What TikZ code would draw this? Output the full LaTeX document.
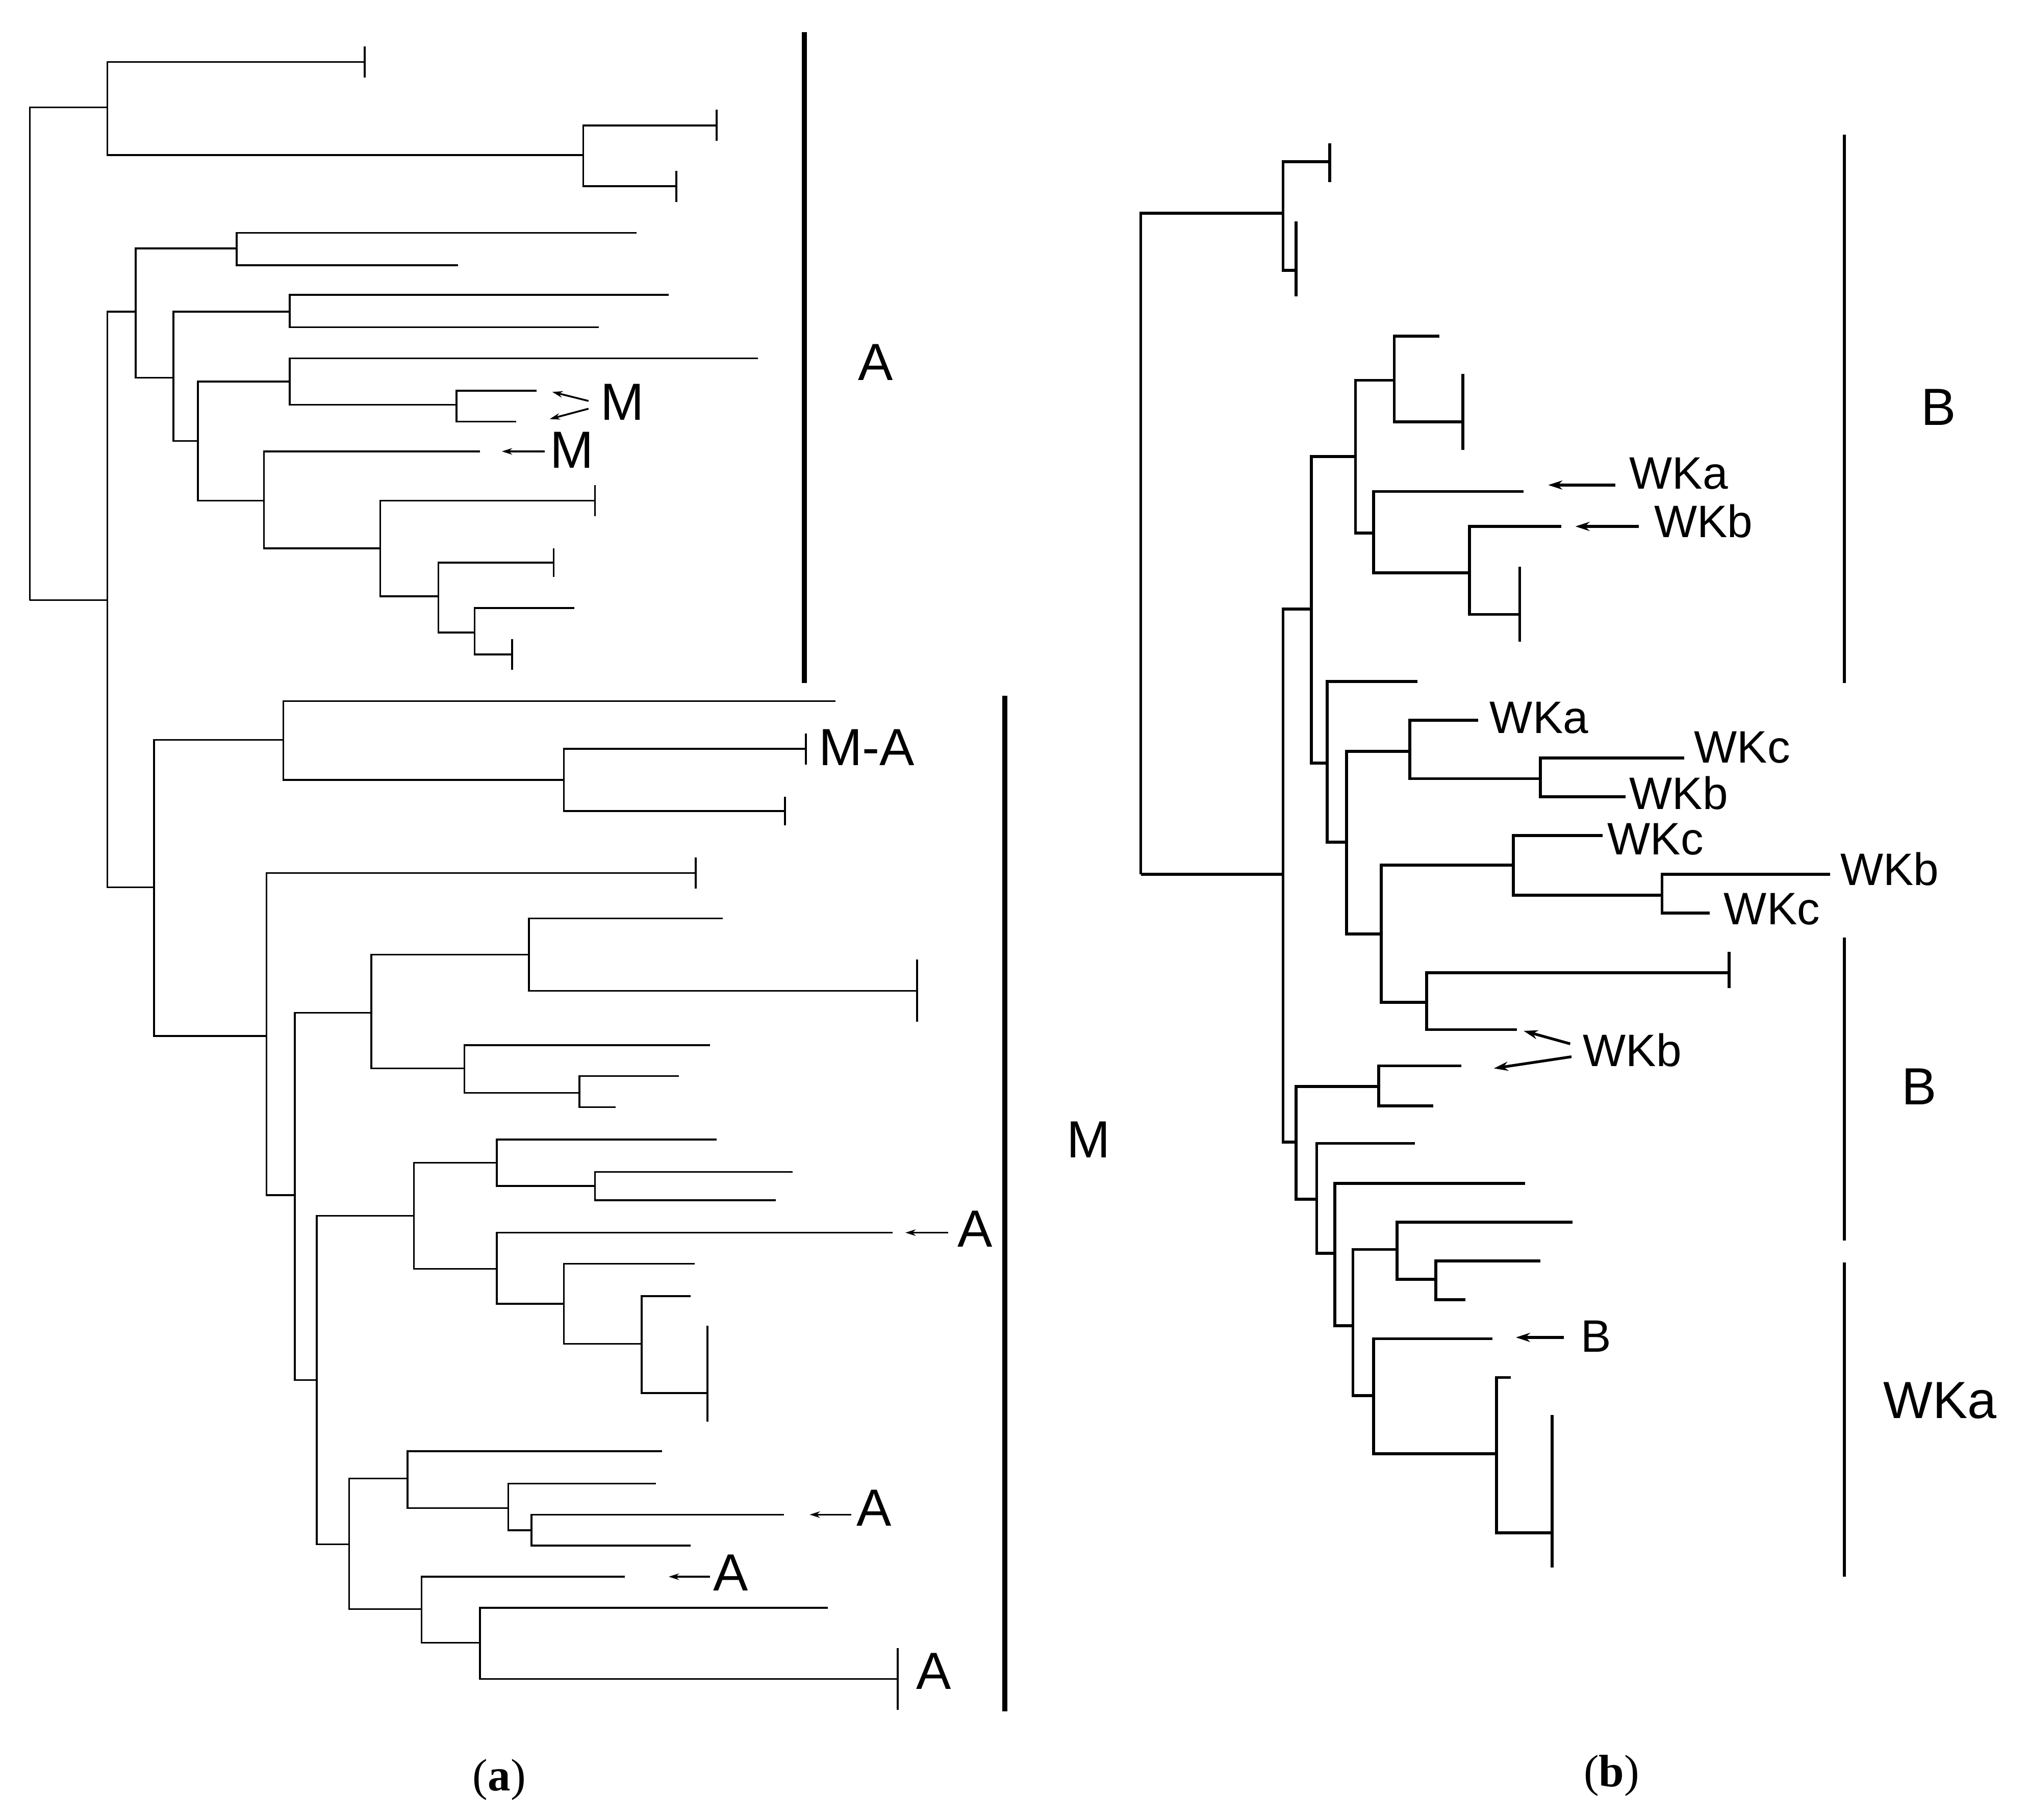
\documentclass[tikz,border=0pt]{standalone}
\usepackage{fontspec}
\setmainfont{Liberation Serif}
\setsansfont{Liberation Sans}
\usetikzlibrary{arrows.meta}
\tikzset{
  lbl/.style={font=\sffamily\fontsize{11.5}{13}\selectfont, inner sep=0pt},
  lblsm/.style={font=\sffamily\fontsize{10}{12}\selectfont, inner sep=0pt},
  panel/.style={font=\fontsize{10}{12}\selectfont, inner sep=0pt},
  elbow/.style={every edge/.style={draw, to path={|- (\tikztotarget)}}},
  ptrA/.style={-{Stealth[length=0.08cm,width=0.05cm]}, line width=0.4pt},
  ptrB/.style={-{Stealth[length=0.11cm,width=0.07cm]}, line width=0.6pt},
}
\newcommand\leafbar[3]{\draw ([yshift=#2cm]#1) -- ([yshift=-#3cm]#1);}

\begin{document}
\begin{tikzpicture}
\useasboundingbox (0,0) rectangle (15.68,-14.07);

% tree (a)
\begin{scope}[line width=0.4pt, elbow]
  \coordinate (a0) at (0.23,-4.64);
  \coordinate (a1) at (0.83,-0.83);
  \coordinate (a1l) at (2.82,-0.48);
  \coordinate (a11) at (4.51,-1.20);
  \coordinate (a11a) at (5.54,-0.97);
  \coordinate (a11b) at (5.23,-1.44);
  \coordinate (a2) at (0.83,-4.64);
  \coordinate (a3) at (1.05,-2.41);
  \coordinate (a31) at (1.83,-1.92);
  \coordinate (a31a) at (4.92,-1.80);
  \coordinate (a31b) at (3.54,-2.05);
  \coordinate (a32) at (1.34,-2.92);
  \coordinate (a321) at (2.24,-2.41);
  \coordinate (a321a) at (5.17,-2.28);
  \coordinate (a321b) at (4.63,-2.53);
  \coordinate (a322) at (1.53,-3.41);
  \coordinate (a323) at (2.24,-2.95);
  \coordinate (a323a) at (5.86,-2.77);
  \coordinate (a324) at (3.53,-3.13);
  \coordinate (a324a) at (4.15,-3.02);
  \coordinate (a324b) at (3.99,-3.26);
  \coordinate (a325) at (2.04,-3.87);
  \coordinate (a325a) at (3.71,-3.49);
  \coordinate (a326) at (2.94,-4.24);
  \coordinate (a326a) at (4.60,-3.87);
  \coordinate (a327) at (3.39,-4.61);
  \coordinate (a327a) at (4.28,-4.35);
  \coordinate (a328) at (3.67,-4.89);
  \coordinate (a328a) at (4.44,-4.70);
  \coordinate (a328b) at (3.96,-5.06);

  \coordinate (a4) at (1.19,-6.86);
  \coordinate (a41) at (2.19,-5.72);
  \coordinate (a41a) at (6.46,-5.42);
  \coordinate (a411) at (4.36,-6.03);
  \coordinate (a411a) at (6.23,-5.79);
  \coordinate (a411b) at (6.07,-6.27);
  \coordinate (a42) at (2.06,-8.01);
  \coordinate (a42a) at (5.38,-6.75);
  \coordinate (a43) at (2.28,-9.24);
  \coordinate (a431) at (2.87,-7.83);
  \coordinate (a432) at (4.09,-7.38);
  \coordinate (a432a) at (5.59,-7.10);
  \coordinate (a432b) at (7.09,-7.66);
  \coordinate (a433) at (3.59,-8.26);
  \coordinate (a433a) at (5.49,-8.08);
  \coordinate (a434) at (4.48,-8.45);
  \coordinate (a434a) at (5.25,-8.32);
  \coordinate (a434b) at (4.76,-8.56);
  \coordinate (a44) at (2.45,-10.67);
  \coordinate (a441) at (3.20,-9.40);
  \coordinate (a442) at (3.84,-8.99);
  \coordinate (a442a) at (5.54,-8.81);
  \coordinate (a443) at (4.60,-9.17);
  \coordinate (a443a) at (6.13,-9.06);
  \coordinate (a443b) at (6.00,-9.28);
  \coordinate (a444) at (3.84,-9.81);
  \coordinate (a444a) at (6.90,-9.53);
  \coordinate (a445) at (4.36,-10.08);
  \coordinate (a445a) at (5.37,-9.77);
  \coordinate (a446) at (4.96,-10.39);
  \coordinate (a446a) at (5.34,-10.02);
  \coordinate (a446b) at (5.47,-10.77);
  \coordinate (a45) at (2.70,-11.94);
  \coordinate (a451) at (3.15,-11.43);
  \coordinate (a451a) at (5.12,-11.22);
  \coordinate (a452) at (3.93,-11.66);
  \coordinate (a452a) at (5.07,-11.47);
  \coordinate (a453) at (4.11,-11.83);
  \coordinate (a453a) at (6.06,-11.71);
  \coordinate (a453b) at (5.34,-11.95);
  \coordinate (a454) at (3.26,-12.44);
  \coordinate (a454a) at (4.83,-12.19);
  \coordinate (a455) at (3.71,-12.70);
  \coordinate (a455a) at (6.40,-12.43);
  \coordinate (a455b) at (6.94,-12.98);

  \path
  (a0) edge (a1) edge (a2)
  (a1) edge (a1l) edge (a11)
  (a11) edge (a11a) edge (a11b)
  (a2) edge (a3) edge (a4)
  (a3) edge (a31) edge (a32)
  (a31) edge (a31a) edge (a31b)
  (a32) edge (a321) edge (a322)
  (a321) edge (a321a) edge (a321b)
  (a322) edge (a323) edge (a325)
  (a323) edge (a323a) edge (a324)
  (a324) edge (a324a) edge (a324b)
  (a325) edge (a325a) edge (a326)
  (a326) edge (a326a) edge (a327)
  (a327) edge (a327a) edge (a328)
  (a328) edge (a328a) edge (a328b)

  (a4) edge (a41) edge (a42)
  (a41) edge (a41a) edge (a411)
  (a411) edge (a411a) edge (a411b)
  (a42) edge (a42a) edge (a43)
  (a43) edge (a431) edge (a44)
  (a431) edge (a432) edge (a433)
  (a432) edge (a432a) edge (a432b)
  (a433) edge (a433a) edge (a434)
  (a434) edge (a434a) edge (a434b)
  (a44) edge (a441) edge (a45)
  (a441) edge (a442) edge (a444)
  (a442) edge (a442a) edge (a443)
  (a443) edge (a443a) edge (a443b)
  (a444) edge (a444a) edge (a445)
  (a445) edge (a445a) edge (a446)
  (a446) edge (a446a) edge (a446b)
  (a45) edge (a451) edge (a454)
  (a451) edge (a451a) edge (a452)
  (a452) edge (a452a) edge (a453)
  (a453) edge (a453a) edge (a453b)
  (a454) edge (a454a) edge (a455)
  (a455) edge (a455a) edge (a455b)
  ;

  \leafbar{a1l}{0.12}{0.12}
  \leafbar{a11a}{0.12}{0.12}
  \leafbar{a11b}{0.12}{0.12}
  \leafbar{a326a}{0.12}{0.12}
  \leafbar{a327a}{0.11}{0.11}
  \leafbar{a328b}{0.12}{0.12}
  \leafbar{a411a}{0.12}{0.12}
  \leafbar{a411b}{0.11}{0.11}
  \leafbar{a42a}{0.12}{0.12}
  \leafbar{a432b}{0.24}{0.24}
  \leafbar{a446b}{0.52}{0.22}
  \leafbar{a455b}{0.24}{0.24}
\end{scope}

% labels and pointers (a)
\node[lbl] (mM1) at (4.81,-3.11) {M};
\node[lbl] (mM2) at (4.42,-3.48) {M};
\node[lbl] (mMA) at (6.70,-5.78) {M-A};
\node[lbl] (mA1) at (7.54,-9.50) {A};
\node[lbl] (mA2) at (6.76,-11.66) {A};
\node[lbl] (mA3) at (5.65,-12.16) {A};
\node[lbl] (mA4) at (7.22,-12.92) {A};

\coordinate (pM1s) at (4.55,-3.10); \coordinate (pM1e) at (4.27,-3.03);
\coordinate (pM2s) at (4.55,-3.16); \coordinate (pM2e) at (4.25,-3.24);
\coordinate (pM3s) at (4.21,-3.49); \coordinate (pM3e) at (3.88,-3.49);
\coordinate (pA1s) at (7.33,-9.53); \coordinate (pA1e) at (7.00,-9.53);
\coordinate (pA2s) at (6.58,-11.71); \coordinate (pA2e) at (6.26,-11.71);
\coordinate (pA3s) at (5.49,-12.19); \coordinate (pA3e) at (5.17,-12.19);
\draw[ptrA] (pM1s) -- (pM1e);
\draw[ptrA] (pM2s) -- (pM2e);
\draw[ptrA] (pM3s) -- (pM3e);
\draw[ptrA] (pA1s) -- (pA1e);
\draw[ptrA] (pA2s) -- (pA2e);
\draw[ptrA] (pA3s) -- (pA3e);

% group bars (a)
\coordinate (gAt) at (6.22,-0.25); \coordinate (gAb) at (6.22,-5.28);
\coordinate (gMt) at (7.77,-5.38); \coordinate (gMb) at (7.77,-13.23);
\draw[line width=1.1pt] (gAt) -- (gAb);
\draw[line width=1.1pt] (gMt) -- (gMb);
\node[lbl] (grpA) at (6.77,-2.80) {A};
\node[lbl] (grpM) at (8.415,-8.81) {M};

% tree (b)
\begin{scope}[line width=0.65pt, elbow]
  \coordinate (b0) at (8.82,-6.76);
  \coordinate (b1) at (9.92,-1.65);
  \coordinate (b1a) at (10.28,-1.25);
  \coordinate (b1b) at (10.02,-2.09);
  \coordinate (b2) at (9.92,-6.76);
  \coordinate (b3) at (10.14,-4.71);
  \coordinate (b31) at (10.48,-3.53);
  \coordinate (b311) at (10.78,-2.94);
  \coordinate (b311a) at (11.13,-2.60);
  \coordinate (b311b) at (11.31,-3.26);
  \coordinate (b312) at (10.62,-4.12);
  \coordinate (b312a) at (11.78,-3.80);
  \coordinate (b313) at (11.36,-4.43);
  \coordinate (b313a) at (12.07,-4.07);
  \coordinate (b313b) at (11.75,-4.75);
  \coordinate (b32) at (10.26,-5.90);
  \coordinate (b32a) at (10.96,-5.27);
  \coordinate (b33) at (10.41,-6.51);
  \coordinate (b331) at (10.90,-5.81);
  \coordinate (b331a) at (11.43,-5.57);
  \coordinate (b332) at (11.91,-6.02);
  \coordinate (b332a) at (13.02,-5.86);
  \coordinate (b332b) at (12.57,-6.16);
  \coordinate (b334) at (10.68,-7.22);
  \coordinate (b335) at (11.70,-6.69);
  \coordinate (b335a) at (12.39,-6.46);
  \coordinate (b336) at (12.85,-6.92);
  \coordinate (b336a) at (14.15,-6.76);
  \coordinate (b336b) at (13.22,-7.06);
  \coordinate (b337) at (11.03,-7.75);
  \coordinate (b337a) at (13.37,-7.52);
  \coordinate (b337b) at (11.73,-7.96);
  \coordinate (b8) at (10.02,-8.83);
  \coordinate (b81) at (10.66,-8.40);
  \coordinate (b81a) at (11.30,-8.24);
  \coordinate (b81b) at (11.08,-8.55);
  \coordinate (b82) at (10.18,-9.27);
  \coordinate (b82a) at (10.94,-8.84);
  \coordinate (b83) at (10.32,-9.69);
  \coordinate (b83a) at (11.79,-9.15);
  \coordinate (b84) at (10.46,-10.25);
  \coordinate (b841) at (10.80,-9.66);
  \coordinate (b841a) at (12.16,-9.45);
  \coordinate (b842) at (11.10,-9.89);
  \coordinate (b842a) at (11.91,-9.75);
  \coordinate (b842b) at (11.33,-10.05);
  \coordinate (b843) at (10.62,-10.79);
  \coordinate (b843a) at (11.54,-10.35);
  \coordinate (b844) at (11.57,-11.24);
  \coordinate (b844a) at (11.68,-10.65);
  \coordinate (b844b) at (12.00,-11.85);

  \path
  (b0) edge (b1) edge (b2)
  (b1) edge (b1a) edge (b1b)
  (b2) edge (b3) edge (b8)
  (b3) edge (b31) edge (b32)
  (b31) edge (b311) edge (b312)
  (b311) edge (b311a) edge (b311b)
  (b312) edge (b312a) edge (b313)
  (b313) edge (b313a) edge (b313b)
  (b32) edge (b32a) edge (b33)
  (b33) edge (b331) edge (b334)
  (b331) edge (b331a) edge (b332)
  (b332) edge (b332a) edge (b332b)
  (b334) edge (b335) edge (b337)
  (b335) edge (b335a) edge (b336)
  (b336) edge (b336a) edge (b336b)
  (b337) edge (b337a) edge (b337b)

  (b8) edge (b81) edge (b82)
  (b81) edge (b81a) edge (b81b)
  (b82) edge (b82a) edge (b83)
  (b83) edge (b83a) edge (b84)
  (b84) edge (b841) edge (b843)
  (b841) edge (b841a) edge (b842)
  (b842) edge (b842a) edge (b842b)
  (b843) edge (b843a) edge (b844)
  (b844) edge (b844a) edge (b844b)
  ;

  \leafbar{b1a}{0.14}{0.16}
  \leafbar{b1b}{0.38}{0.20}
  \leafbar{b311b}{0.37}{0.22}
  \leafbar{b313b}{0.37}{0.21}
  \leafbar{b337a}{0.16}{0.12}
  \leafbar{b844b}{0.91}{0.27}
\end{scope}

% labels and pointers (b)
\node[lblsm] (wa1) at (12.98,-3.66) {WKa};
\node[lblsm] (wb1) at (13.17,-4.03) {WKb};
\node[lblsm] (wa2) at (11.90,-5.55) {WKa};
\node[lblsm] (wc1) at (13.47,-5.78) {WKc};
\node[lblsm] (wb2) at (12.98,-6.13) {WKb};
\node[lblsm] (wc2) at (12.80,-6.49) {WKc};
\node[lblsm] (wb3) at (14.61,-6.72) {WKb};
\node[lblsm] (wc3) at (13.70,-7.03) {WKc};
\node[lblsm] (wb4) at (12.62,-8.12) {WKb};
\node[lblsm] (wB) at (12.34,-10.33) {B};

\coordinate (qa1s) at (12.49,-3.75); \coordinate (qa1e) at (11.97,-3.75);
\coordinate (qb1s) at (12.67,-4.07); \coordinate (qb1e) at (12.18,-4.07);
\coordinate (qb2s) at (12.14,-8.07); \coordinate (qb2e) at (11.78,-7.97);
\coordinate (qb3s) at (12.15,-8.17); \coordinate (qb3e) at (11.55,-8.26);
\coordinate (qBs) at (12.09,-10.34); \coordinate (qBe) at (11.72,-10.34);
\draw[ptrB] (qa1s) -- (qa1e);
\draw[ptrB] (qb1s) -- (qb1e);
\draw[ptrB] (qb2s) -- (qb2e);
\draw[ptrB] (qb3s) -- (qb3e);
\draw[ptrB] (qBs) -- (qBe);

% group bars (b)
\coordinate (gB1t) at (14.26,-1.04); \coordinate (gB1b) at (14.26,-5.28);
\coordinate (gB2t) at (14.26,-7.25); \coordinate (gB2b) at (14.26,-9.59);
\coordinate (gWt) at (14.26,-9.76); \coordinate (gWb) at (14.26,-12.19);
\draw[line width=0.75pt] (gB1t) -- (gB1b);
\draw[line width=0.75pt] (gB2t) -- (gB2b);
\draw[line width=0.75pt] (gWt) -- (gWb);
\node[lbl] (grpB1) at (14.99,-3.15) {B};
\node[lbl] (grpB2) at (14.84,-8.40) {B};
\node[lbl] (grpW) at (15.00,-10.83) {WKa};

% panel captions
\node[panel] (capa) at (3.86,-13.76) {(\textbf{a})};
\node[panel] (capb) at (12.46,-13.73) {(\textbf{b})};
\end{tikzpicture}
\end{document}
